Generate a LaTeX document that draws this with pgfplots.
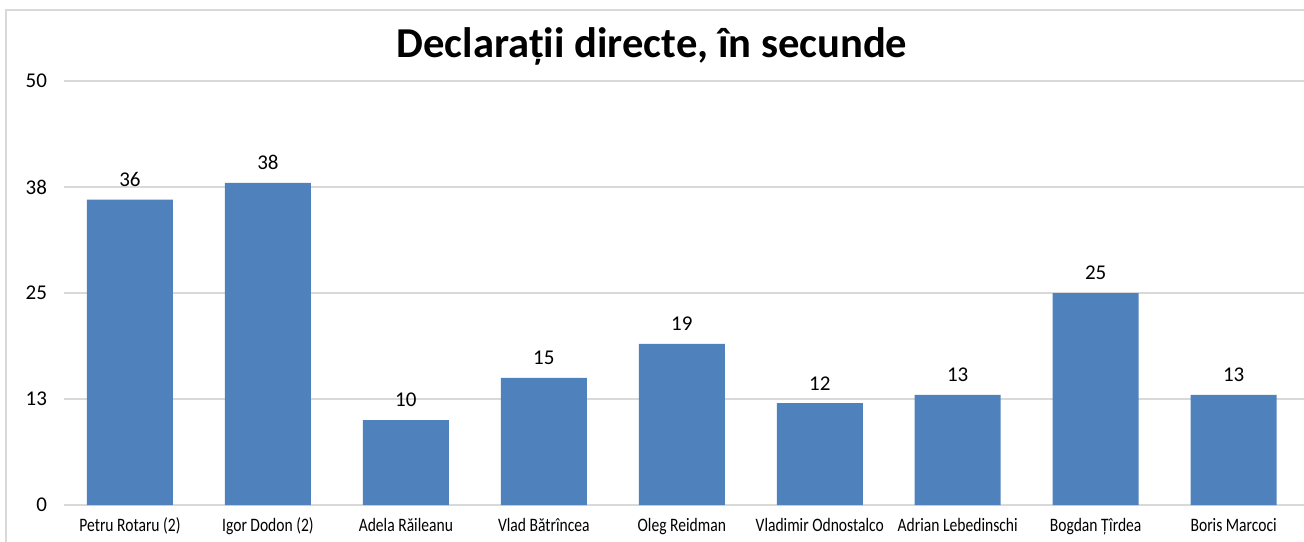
\documentclass[border=0pt]{standalone}
\usepackage{fontspec}
\setmainfont{Carlito}
\newfontfamily\narrowfont[FakeStretch=0.82]{Carlito}
\usepackage{pgfplots}
\pgfplotsset{compat=1.18}
\definecolor{barblue}{HTML}{4F81BD}
\definecolor{gridgray}{HTML}{D9D9D9}

\begin{document}
\begin{tikzpicture}
\useasboundingbox (0pt,0pt) rectangle (652pt,270.5pt);
\draw[gridgray,line width=0.8pt] (3pt,-5pt) -- (3pt,265.5pt) -- (660pt,265.5pt);
\node[font=\fontsize{21.3}{25}\selectfont\bfseries] at (326pt,247.5pt) {Declarații directe, în secunde};
\begin{axis}[at={(32pt,18pt)},anchor=south west,scale only axis,width=620pt,height=212pt,
  ybar,bar width=43pt,
  xmin=-0.478,xmax=8.51,ymin=0,ymax=50,
  xtick={0,...,8},
  xticklabels={Petru Rotaru (2),Igor Dodon (2),Adela Răileanu,Vlad Bătrîncea,Oleg Reidman,Vladimir Odnostalco,Adrian Lebedinschi,Bogdan Țîrdea,Boris Marcoci},
  ytick={0,12.5,25,37.5,50},yticklabels={0,13,25,38,50},
  ymajorgrids,grid style={gridgray,line width=0.8pt},
  axis line style={draw=none},major tick length=0pt,
  x tick label style={font=\narrowfont\fontsize{9.5}{11}\selectfont,yshift=-3pt},
  y tick label style={font=\fontsize{10.5}{12}\selectfont,xshift=-5pt},
  nodes near coords,
  nodes near coords style={font=\fontsize{10.5}{12}\selectfont,yshift=3pt},
  /pgf/number format/assume math mode=true,
  clip=false]
\addplot[fill=barblue,draw=none] coordinates {(0,36) (1,38) (2,10) (3,15) (4,19) (5,12) (6,13) (7,25) (8,13)};
\end{axis}
\end{tikzpicture}
\end{document}
